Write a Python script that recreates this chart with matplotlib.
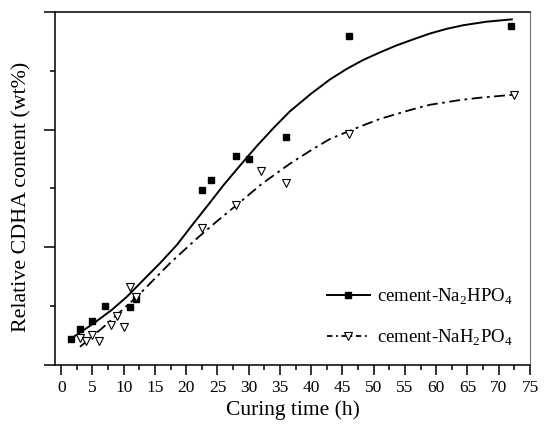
import matplotlib.pyplot as plt
from matplotlib.ticker import MultipleLocator, NullFormatter

plt.rcParams['font.family'] = ['Liberation Serif', 'DejaVu Serif']
plt.rcParams['mathtext.fontset'] = 'custom'
plt.rcParams['mathtext.rm'] = 'Liberation Serif'

# measured points
t_na2 = [1.5, 3, 5, 7, 11, 12, 22.5, 24, 28, 30, 36, 46, 72]
y_na2 = [0.44, 0.61, 0.74, 1.0, 0.98, 1.13, 2.97, 3.15, 3.55, 3.50, 3.87, 5.58, 5.76]

t_nah2 = [3, 4, 5, 6, 8, 9, 10, 11, 12, 22.5, 28, 32, 36, 46, 72.5]
y_nah2 = [0.46, 0.41, 0.51, 0.41, 0.68, 0.83, 0.65, 1.32, 1.15, 2.32, 2.72, 3.30, 3.10, 3.93, 4.59]

# fitted curves
fit_t_na2 = [2.0, 5.2, 8.0, 10.5, 13.0, 15.8, 18.5, 20.9, 23.8, 26.0, 28.7, 31.3,
             34.0, 36.6, 40.0, 43.0, 45.7, 48.3, 51.0, 53.7, 56.3, 59.0, 61.7, 64.3,
             68.0, 72.1]
fit_y_na2 = [0.48, 0.71, 0.93, 1.16, 1.43, 1.73, 2.04, 2.37, 2.76, 3.06, 3.40, 3.72,
             4.03, 4.31, 4.61, 4.85, 5.03, 5.18, 5.31, 5.43, 5.53, 5.63, 5.71, 5.77,
             5.83, 5.87]

fit_t_nah2 = [3.0, 6.8, 9.5, 12.1, 14.8, 17.4, 21.7, 25.0, 28.1, 32.0, 36.6, 40.0,
              43.0, 47.8, 51.0, 55.8, 59.0, 63.8, 67.0, 72.3]
fit_y_nah2 = [0.31, 0.65, 0.91, 1.16, 1.45, 1.73, 2.15, 2.45, 2.72, 3.07, 3.42, 3.65,
              3.84, 4.05, 4.18, 4.33, 4.42, 4.50, 4.54, 4.59]

fig = plt.figure(figsize=(5.46, 4.29), dpi=100)
ax = fig.add_axes([0.1007, 0.149, 0.87, 0.8237])

ax.plot(fit_t_na2, fit_y_na2, color='black', lw=1.4)
ax.plot(fit_t_nah2, fit_y_nah2, color='black', lw=1.3, dashes=(6, 2.5, 1.5, 2.5))
ax.plot(t_na2, y_na2, 's', color='black', ms=4.5)
ax.plot(t_nah2, y_nah2, 'v', mfc='white', mec='black', mew=0.8, ms=6)

# legend handles
h1, = ax.plot([], [], '-s', color='black', lw=1.4, ms=4.5)
h2, = ax.plot([], [], marker='v', color='black', mfc='white', mew=0.8, ms=6,
              lw=1.3, dashes=(3, 2, 1, 2))
ax.legend([h1, h2], [r'cement-Na$_2$HPO$_4$', r'cement-NaH$_2$PO$_4$'],
          loc='lower right', bbox_to_anchor=(1.0, 0.0), frameon=False,
          fontsize=13.5, handlelength=2.3, labelspacing=1.1, handletextpad=0.4)

ax.set_xlim(-1, 75)
ax.set_ylim(0, 6)
ax.xaxis.set_major_locator(MultipleLocator(5))
ax.xaxis.set_minor_locator(MultipleLocator(2.5))
ax.yaxis.set_major_locator(MultipleLocator(2))
ax.yaxis.set_minor_locator(MultipleLocator(1))
ax.yaxis.set_major_formatter(NullFormatter())
ax.tick_params(which='major', direction='out', length=7, width=1.1, labelsize=12.5)
ax.tick_params(which='minor', direction='out', length=3.5, width=1.1)
ax.tick_params(axis='y', which='major', length=8)

ax.spines['right'].set_color('0.45')
ax.spines['right'].set_linewidth(0.8)
for s in ['left', 'bottom', 'top']:
    ax.spines[s].set_linewidth(1.1)

ax.set_xlabel('Curing time (h)', fontsize=15.5, labelpad=3)
ax.set_ylabel('Relative CDHA content (wt%)', fontsize=15.8)
ax.yaxis.set_label_coords(-0.05, 0.476)

fig.savefig('out.png', dpi=100)
